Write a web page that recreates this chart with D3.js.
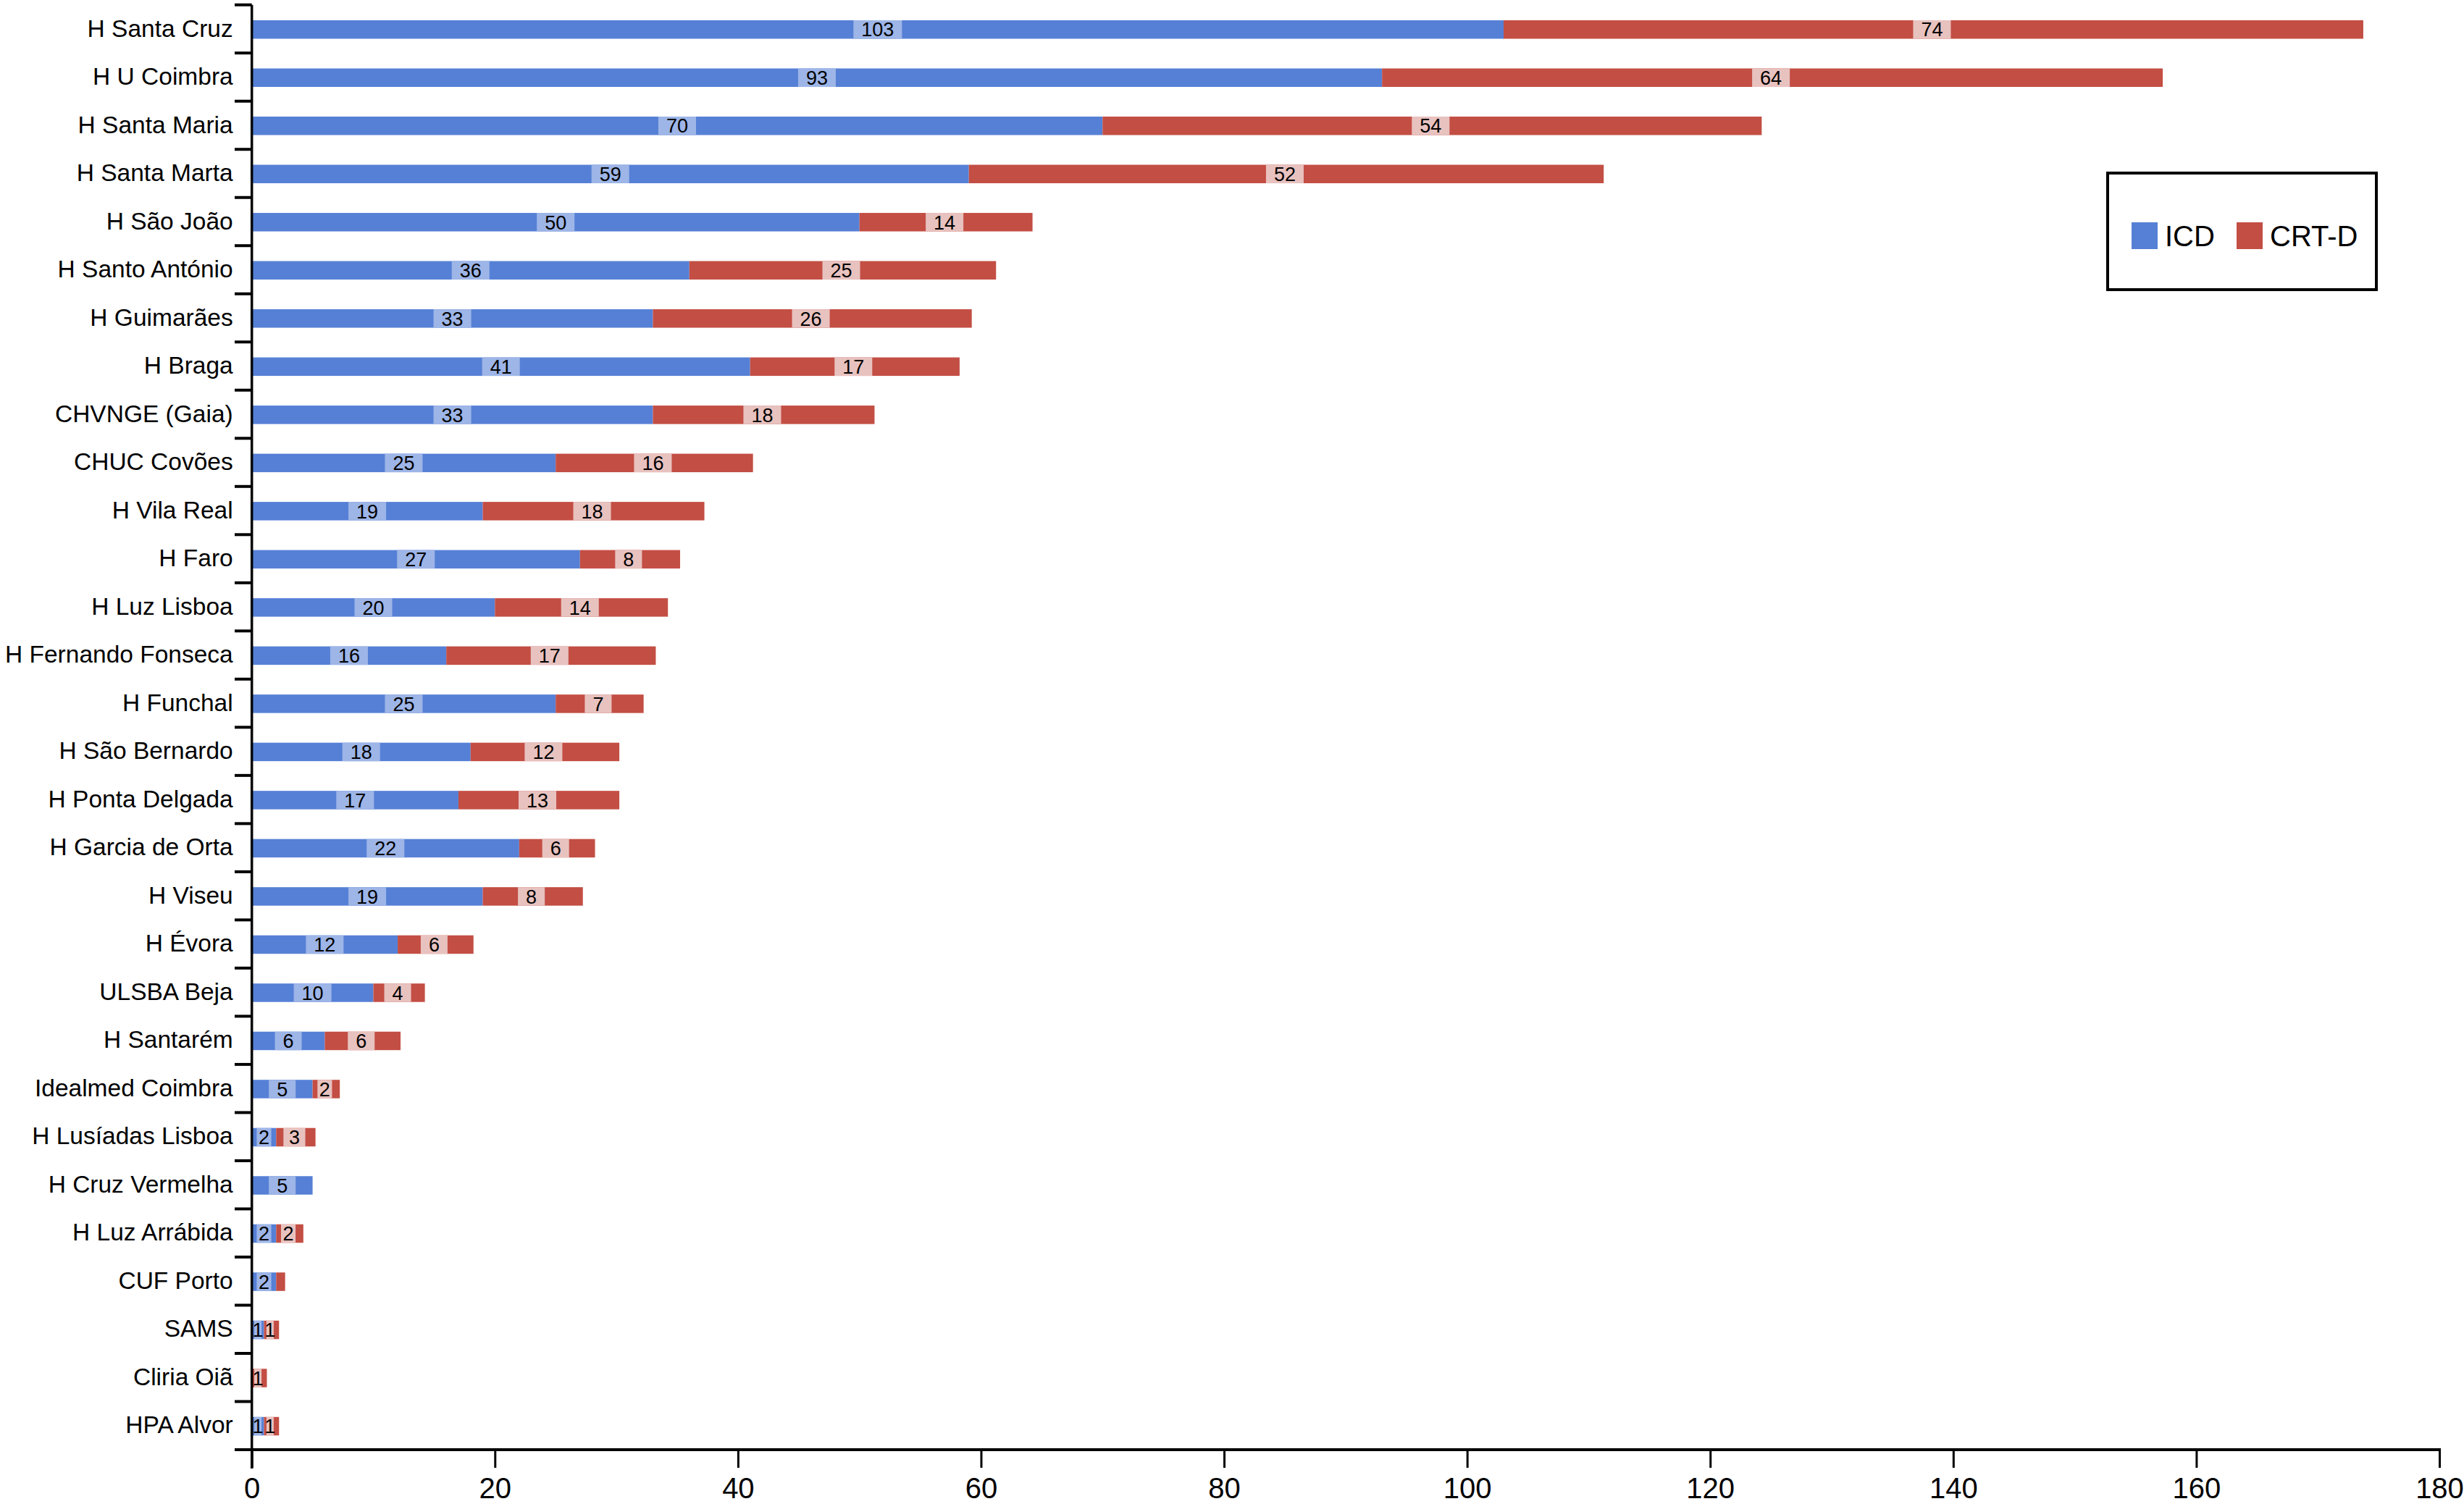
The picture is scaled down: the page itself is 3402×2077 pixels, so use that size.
<!DOCTYPE html>
<html>
<head>
<meta charset="utf-8">
<script src="https://cdn.jsdelivr.net/npm/d3@7"></script>
<style>
  body { margin: 0; background: #fff; }
  text { font-family: "Liberation Sans", Arial, Helvetica, sans-serif; fill: #000; }
</style>
</head>
<body>
<svg id="chart" width="3402" height="2077"></svg>
<script>
var hospitals = ["H Santa Cruz", "H U Coimbra", "H Santa Maria", "H Santa Marta", "H São João",
    "H Santo António", "H Guimarães", "H Braga", "CHVNGE (Gaia)", "CHUC Covões",
    "H Vila Real", "H Faro", "H Luz Lisboa", "H Fernando Fonseca", "H Funchal",
    "H São Bernardo", "H Ponta Delgada", "H Garcia de Orta", "H Viseu", "H Évora",
    "ULSBA Beja", "H Santarém", "Idealmed Coimbra", "H Lusíadas Lisboa", "H Cruz Vermelha",
    "H Luz Arrábida", "CUF Porto", "SAMS", "Cliria Oiã", "HPA Alvor"];

// bar lengths as drawn
var icdValues = [103, 93, 70, 59, 50, 36, 33, 41, 33, 25, 19, 27, 20, 16, 25,
    18, 17, 22, 19, 12, 10, 6, 5, 2, 5, 2, 2, 1, 0, 1];
var crtdValues = [70.5, 64, 54, 52, 14, 25, 26, 17, 18, 16, 18, 8, 14, 17, 7,
    12, 13, 6, 8, 6, 4, 6, 2, 3, 0, 2, 0.5, 1, 1, 1];

// numbers printed on the bars
var icdLabels = ["103", "93", "70", "59", "50", "36", "33", "41", "33", "25", "19", "27", "20", "16", "25",
    "18", "17", "22", "19", "12", "10", "6", "5", "2", "5", "2", "2", "1", "", "1"];
var crtdLabels = ["74", "64", "54", "52", "14", "25", "26", "17", "18", "16", "18", "8", "14", "17", "7",
    "12", "13", "6", "8", "6", "4", "6", "2", "3", "", "2", "", "1", "1", "1"];

var seriesNames = ["ICD", "CRT-D"];
var xTicks = [0, 20, 40, 60, 80, 100, 120, 140, 160, 180];

var svg = d3.select("#chart");

var colors = { "ICD": "#5680d6", "CRT-D": "#c34e44" };
var lightColors = { "ICD": "#9db5e7", "CRT-D": "#e8c2bf" };

var x = d3.scaleLinear().domain([0, 180]).range([347.7, 3368]);
var y = d3.scaleBand().domain(hospitals).range([6.7, 2002]).paddingInner(0).paddingOuter(0);
var barH = 25.5;

// stack rows
var rows = hospitals.map(function (h, i) {
    return [
        { name: h, series: "ICD", x0: 0, x1: icdValues[i], label: icdLabels[i] },
        { name: h, series: "CRT-D", x0: icdValues[i], x1: icdValues[i] + crtdValues[i], label: crtdLabels[i] }
    ];
});
var segs = [].concat.apply([], rows).filter(function (d) { return d.x1 > d.x0; });

var bars = svg.append("g").attr("class", "bars");

bars.selectAll("rect")
    .data(segs)
    .enter()
    .append("rect")
    .attr("x", function (d) { return x(d.x0); })
    .attr("y", function (d) { return y(d.name) + y.bandwidth() / 2 - barH / 2 + 0.8; })
    .attr("width", function (d) { return x(d.x1) - x(d.x0) + (d.series === "CRT-D" ? 4 : 0); })
    .attr("height", barH)
    .attr("fill", function (d) { return colors[d.series]; });

// value labels with a light box behind
var labels = bars.selectAll("g.lbl")
    .data(segs.filter(function (d) { return d.label !== ""; }))
    .enter()
    .append("g")
    .attr("class", "lbl");

labels.append("rect").attr("class", "box");

labels.append("text")
    .attr("x", function (d) { return x((d.x0 + d.x1) / 2); })
    .attr("y", function (d) { return y(d.name) + y.bandwidth() / 2 + 0.8; })
    .attr("dy", "0.36em")
    .attr("text-anchor", "middle")
    .attr("font-size", "27px")
    .text(function (d) { return d.label; });

labels.each(function (d) {
    var g = d3.select(this);
    var tw = g.select("text").node().getComputedTextLength();
    var segW = x(d.x1) - x(d.x0);
    var w = Math.min(tw + 22, segW * 0.6);
    g.select("rect.box")
        .attr("x", x((d.x0 + d.x1) / 2) - w / 2)
        .attr("y", y(d.name) + y.bandwidth() / 2 - barH / 2 + 0.8)
        .attr("width", w)
        .attr("height", barH)
        .attr("fill", lightColors[d.series]);
});

// y axis
var yAxis = svg.append("g")
    .attr("transform", "translate(" + x(0) + ",0)")
    .call(d3.axisLeft(y).tickSize(0).tickPadding(26));
yAxis.select(".domain").remove();
yAxis.selectAll("text").attr("font-size", "33.5px").attr("font-family", null);

svg.append("line")
    .attr("x1", x(0)).attr("x2", x(0))
    .attr("y1", y.range()[0]).attr("y2", 2028)
    .attr("stroke", "#000").attr("stroke-width", 3.5);

// tick marks on category boundaries
var bounds = hospitals.map(function (h) { return y(h); });
svg.append("g").selectAll("line")
    .data(bounds)
    .enter()
    .append("line")
    .attr("x1", 324).attr("x2", x(0))
    .attr("y1", function (d) { return d; })
    .attr("y2", function (d) { return d; })
    .attr("stroke", "#000").attr("stroke-width", 4);

// x axis
var xAxis = svg.append("g")
    .attr("transform", "translate(0," + y.range()[1] + ")")
    .call(d3.axisBottom(x).tickValues(xTicks).tickSize(25).tickPadding(14).tickSizeOuter(0));
xAxis.select(".domain").remove();
xAxis.selectAll(".tick line").attr("stroke-width", 3);
xAxis.selectAll("text").attr("font-size", "40px").attr("font-family", null);

svg.append("line")
    .attr("x1", 324).attr("x2", x(180) + 2)
    .attr("y1", y.range()[1]).attr("y2", y.range()[1])
    .attr("stroke", "#000").attr("stroke-width", 4);

// legend
var legend = svg.append("g").attr("transform", "translate(2910,239)");
legend.append("rect")
    .attr("width", 371).attr("height", 161)
    .attr("fill", "#fff").attr("stroke", "#000").attr("stroke-width", 4);

var legendX = [33, 178];
var item = legend.selectAll("g.item")
    .data(seriesNames)
    .enter()
    .append("g")
    .attr("class", "item")
    .attr("transform", function (d, i) { return "translate(" + legendX[i] + ",68)"; });

item.append("rect")
    .attr("width", 36).attr("height", 37)
    .attr("fill", function (d) { return colors[d]; });

item.append("text")
    .attr("x", 46)
    .attr("y", 19)
    .attr("dy", "0.36em")
    .attr("font-size", "40px")
    .text(function (d) { return d; });
</script>
</body>
</html>
